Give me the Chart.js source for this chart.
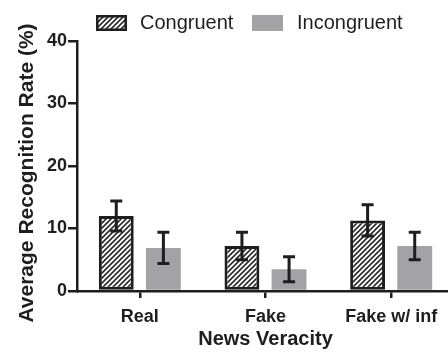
<!DOCTYPE html>
<html>
<head>
<meta charset="utf-8">
<script src="https://cdn.jsdelivr.net/npm/chart.js@4/dist/chart.umd.min.js"></script>
<style>
  html, body { margin: 0; padding: 0; background: #fff; overflow: hidden; }
  #wrap { width: 460px; height: 352px; }
</style>
</head>
<body>
<div id="wrap"><canvas id="c" width="460" height="352"></canvas></div>
<script>
// Recognition rates by news veracity and congruence (mean ± error)
const categories = ['Real', 'Fake', 'Fake w/ inf'];
const seriesNames = ['Congruent', 'Incongruent'];
const congruent = [12.0, 7.2, 11.3];
const congruentErr = [2.4, 2.2, 2.5];
const incongruent = [6.9, 3.5, 7.2];
const incongruentErr = [2.5, 2.0, 2.2];
const yTicks = [0, 10, 20, 30, 40];

const FONT = "'Liberation Sans', Arial, Helvetica, sans-serif";
const INK = '#1e1e1e';
const GREY = '#a3a3a5';

// diagonal hatch fill
function makeHatch() {
  const s = 5;
  const t = document.createElement('canvas');
  t.width = s; t.height = s;
  const g = t.getContext('2d');
  g.fillStyle = '#ffffff';
  g.fillRect(0, 0, s, s);
  g.strokeStyle = '#2a2a2a';
  g.lineWidth = 1.6;
  g.beginPath();
  g.moveTo(-1, s + 1); g.lineTo(s + 1, -1);
  g.moveTo(-1, 1); g.lineTo(1, -1);
  g.moveTo(s - 1, s + 1); g.lineTo(s + 1, s - 1);
  g.stroke();
  return document.getElementById('c').getContext('2d').createPattern(t, 'repeat');
}
const hatch = makeHatch();

const errors = [congruentErr, incongruentErr];

const errorBars = {
  id: 'errorBars',
  afterDatasetsDraw(chart) {
    const ctx = chart.ctx;
    const y = chart.scales.y;
    ctx.save();
    ctx.strokeStyle = INK;
    ctx.lineWidth = 3;
    ctx.lineCap = 'butt';
    chart.data.datasets.forEach((ds, i) => {
      const meta = chart.getDatasetMeta(i);
      meta.data.forEach((bar, j) => {
        const v = ds.data[j], e = errors[i][j];
        const x = bar.x;
        const yt = y.getPixelForValue(v + e);
        const yb = y.getPixelForValue(v - e);
        ctx.beginPath();
        ctx.moveTo(x, yt); ctx.lineTo(x, yb);
        ctx.moveTo(x - 6, yt); ctx.lineTo(x + 6, yt);
        ctx.moveTo(x - 6, yb); ctx.lineTo(x + 6, yb);
        ctx.stroke();
      });
    });
    ctx.restore();
  }
};

const keyRow = {
  id: 'keyRow',
  afterDraw(chart) {
    const ctx = chart.ctx;
    const items = [
      { x: 96, tx: 140, fill: hatch, border: true },
      { x: 252, tx: 297, fill: GREY, border: false }
    ];
    ctx.save();
    items.forEach((it, i) => {
      ctx.fillStyle = it.fill;
      ctx.fillRect(it.x, 15, 31, 16);
      if (it.border) {
        ctx.strokeStyle = INK;
        ctx.lineWidth = 2.5;
        ctx.strokeRect(it.x + 1.25, 16.25, 28.5, 13.5);
      }
      ctx.fillStyle = INK;
      ctx.font = '20px ' + FONT;
      ctx.textBaseline = 'middle';
      ctx.textAlign = 'left';
      ctx.fillText(seriesNames[i], it.tx, 23);
    });
    // vertical axis title
    ctx.translate(27, 173);
    ctx.rotate(-Math.PI / 2);
    ctx.font = 'bold 21px ' + FONT;
    ctx.textAlign = 'center';
    ctx.textBaseline = 'middle';
    ctx.fillText('Average Recognition Rate (%)', 0, 0);
    ctx.restore();
  }
};

new Chart(document.getElementById('c'), {
  type: 'bar',
  data: {
    labels: categories,
    datasets: [
      {
        label: seriesNames[0],
        data: congruent,
        backgroundColor: hatch,
        borderColor: INK,
        borderWidth: 3,
        borderSkipped: false,
        categoryPercentage: 0.75,
        barPercentage: 0.74
      },
      {
        label: seriesNames[1],
        data: incongruent,
        backgroundColor: GREY,
        borderWidth: 0,
        categoryPercentage: 0.75,
        barPercentage: 0.74
      }
    ]
  },
  options: {
    responsive: false,
    animation: false,
    devicePixelRatio: 1,
    layout: { padding: { top: 41, right: 6, left: 0, bottom: 0 } },
    plugins: { legend: { display: false }, tooltip: { enabled: false } },
    scales: {
      x: {
        offset: true,
        afterFit(s) { s.height = 61; },
        grid: {
          display: true, offset: false, drawOnChartArea: false,
          drawTicks: true, tickLength: 7, color: INK, lineWidth: 2.5
        },
        border: { display: true, color: INK, width: 2.5 },
        ticks: { color: INK, font: { family: FONT, size: 18, weight: 'bold' }, padding: 8 },
        title: {
          display: true, text: 'News Veracity', color: INK,
          font: { family: FONT, size: 20, weight: 'bold' },
          padding: { top: 0, bottom: 1 }
        }
      },
      y: {
        min: 0, max: 40,
        afterFit(s) { s.width = 77; },
        afterBuildTicks(s) { s.ticks = yTicks.map(v => ({ value: v })); },
        grid: {
          display: true, drawOnChartArea: false,
          drawTicks: true, tickLength: 9, color: INK, lineWidth: 2.5
        },
        border: { display: true, color: INK, width: 2.5 },
        ticks: { color: INK, font: { family: FONT, size: 18, weight: 'bold' }, padding: 1 }
      }
    }
  },
  plugins: [errorBars, keyRow]
});
</script>
</body>
</html>
